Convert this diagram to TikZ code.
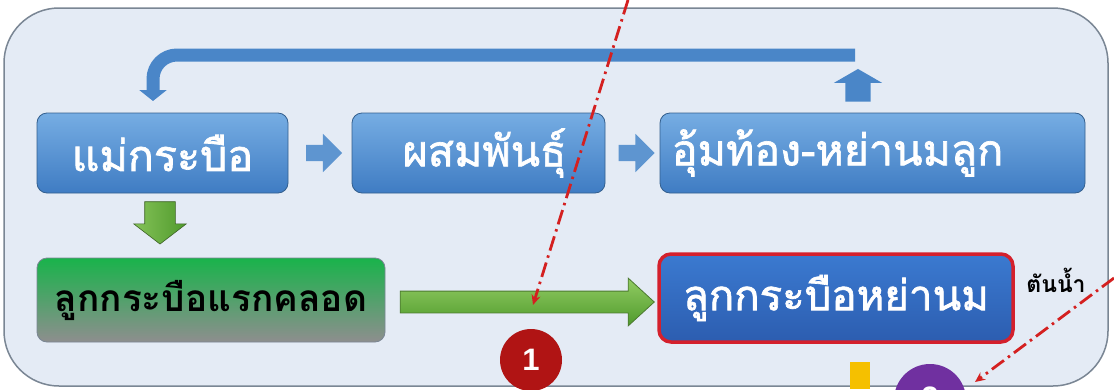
\documentclass[tikz,border=0pt]{standalone}
\usepackage{fontspec}
\newfontfamily\thai[Script=Thai,FakeBold=1.6]{Loma}
\newfontfamily\thaibold[Script=Thai]{Loma Bold}
\newfontfamily\numfont{Liberation Sans}
\usetikzlibrary{arrows.meta,shapes.arrows,calc}
\definecolor{bgfill}{HTML}{E4EBF5}
\definecolor{frame}{HTML}{7A8694}
\definecolor{boxtop}{HTML}{76ADE3}
\definecolor{boxbot}{HTML}{3F7CC3}
\definecolor{boxline}{HTML}{335F8E}
\definecolor{bar}{HTML}{4A86C8}
\definecolor{sarrow}{HTML}{5E95D0}
\definecolor{gtop}{HTML}{19B34B}
\definecolor{gbot}{HTML}{8E8E8E}
\definecolor{etop}{HTML}{3B7AD0}
\definecolor{ebot}{HTML}{2C5DB0}
\definecolor{eline}{HTML}{D4202C}
\definecolor{atop}{HTML}{92CC63}
\definecolor{abot}{HTML}{4F9A2C}
\definecolor{aline}{HTML}{4C7A30}
\definecolor{reddash}{HTML}{D42020}
\definecolor{circred}{HTML}{B01414}
\definecolor{circpurple}{HTML}{7030A0}
\definecolor{yel}{HTML}{F5C000}
\tikzset{
  topbox/.style={rounded corners=10pt, draw=boxline, line width=0.8pt,
    top color=boxtop, bottom color=boxbot, text=white,
    minimum height=80pt, inner sep=0pt, font=\thai\fontsize{43}{46}\selectfont},
  smallarrow/.style={single arrow, fill=sarrow, draw=none, inner sep=8pt,
    single arrow head extend=11pt, minimum height=36pt},
  dashline/.style={draw=reddash, line width=2.8pt,
    dash pattern=on 15pt off 5pt on 2.5pt off 5pt, -{Stealth[length=10pt,width=9pt]}},
  numcircle/.style={circle, inner sep=0pt, minimum size=#1, text=white,
    font=\numfont\bfseries\fontsize{31}{33}\selectfont}
}
\begin{document}
\begin{tikzpicture}[x=1pt,y=-1pt]
\useasboundingbox (0,0) rectangle (1114,389);
\fill[white] (0,0) rectangle (1114,389);
\clip (0,0) rectangle (1114,389);
% container
\draw[frame, fill=bgfill, line width=1.5pt, rounded corners=55pt] (4,8) rectangle (1108,386);
% top row boxes
\node[topbox, minimum width=251pt] (A) at (162.5,153) {แม่กระบือ};
\node[topbox, minimum width=253pt] (B) at (478.5,153) {\hspace*{12pt}ผสมพันธุ์};
\node[topbox, minimum width=425pt] (C) at (872.5,153) {\hspace*{-70pt}อุ้มท้อง-หย่านมลูก};
% small arrows between boxes
\node[smallarrow] (ab) at ($(A.east)!0.5!(B.west)$) {};
\node[smallarrow] (bc) at ($(B.east)!0.5!(C.west)$) {};
% feedback arrow
\coordinate (fbstart) at (855,55);
\coordinate (fbcorner) at (153,55);
\coordinate (fbend) at (153,101);
\node[single arrow, fill=bar, draw=none, inner sep=12.5pt, single arrow head extend=11.5pt,
  single arrow tip angle=120, minimum height=26pt, rotate=90] (up) at (858,89) {};
\draw[bar, line width=13pt, rounded corners=24pt, -{Triangle[width=27pt,length=11pt]}]
  (fbstart) -- (fbcorner) -- (fbend);
% lower row
\node[rounded corners=10pt, draw=frame, line width=0.8pt, top color=gtop, bottom color=gbot,
  minimum width=348pt, minimum height=84pt, inner sep=0pt,
  font=\thaibold\fontsize{37}{40}\selectfont] (D) at (211,300) {ลูกกระบือแรกคลอด};
\node[rounded corners=12pt, draw=eline, line width=3.5pt, top color=etop, bottom color=ebot,
  text=white, minimum width=354pt, minimum height=88pt, inner sep=0pt,
  font=\thai\fontsize{42}{45}\selectfont] (E) at (836,298) {ลูกกระบือหย่านม};
\node[single arrow, top color=atop!80!abot, bottom color=abot, draw=aline!80!black, line width=0.6pt,
  inner sep=15pt, single arrow head extend=11pt, single arrow tip angle=105, minimum height=38pt,
  rotate=-90, shading angle=90] (down) at (160,217) {};
\node[single arrow, top color=atop, bottom color=abot, draw=aline, line width=0.8pt,
  inner sep=10.5pt, single arrow head extend=13pt, single arrow tip angle=85,
  minimum height=254pt] (DE) at ($(D.east)!0.5!(E.west)+(0,3)$) {};
\node[font=\thaibold\fontsize{23}{25}\selectfont] (tn) at (1056,280) {ตันน้ำ};
% circles and bar
\node[numcircle=62pt, fill=circred] (c1) at (531,360) {1};
\node[numcircle=72pt, fill=circpurple] (c2) at (930,400) {\raisebox{4pt}{2}};
\fill[yel] (850,362) rectangle (870,389);
% dashed pointers
\coordinate (p1) at (628,0);
\coordinate (q1) at (533,305);
\coordinate (p2) at (1114,278);
\coordinate (q2) at (975,382);
\draw[dashline] (p1) -- (q1);
\draw[dashline] (p2) -- (q2);
\end{tikzpicture}
\end{document}
